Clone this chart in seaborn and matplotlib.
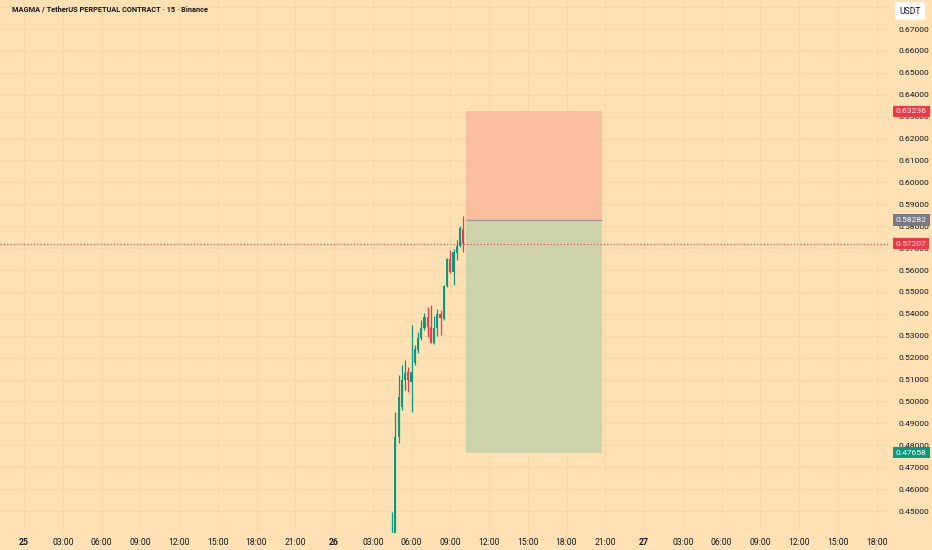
import matplotlib
matplotlib.use("Agg")
import matplotlib.pyplot as plt
import matplotlib.transforms as mtransforms
from matplotlib.patches import Rectangle
import seaborn as sns
import pandas as pd

# ---------------- data ----------------
title = "MAGMA / TetherUS PERPETUAL CONTRACT · 15 · Binance"

candle_times = ["04:30", "04:45", "05:00", "05:15", "05:30", "05:45", "06:00", "06:15",
                "06:30", "06:45", "07:00", "07:15", "07:30", "07:45", "08:00", "08:15",
                "08:30", "08:45", "09:00", "09:15", "09:30", "09:45", "10:00"]
opens = [0.4370, 0.4385, 0.4839, 0.4976, 0.5098, 0.5136, 0.5090, 0.5177,
         0.5235, 0.5290, 0.5335, 0.5387, 0.5341, 0.5268, 0.5335, 0.5399,
         0.5375, 0.5527, 0.5649, 0.5592, 0.5679, 0.5710, 0.5786]
highs = [0.4497, 0.4953, 0.5121, 0.5166, 0.5189, 0.5159, 0.5349, 0.5258,
         0.5318, 0.5372, 0.5404, 0.5433, 0.5440, 0.5390, 0.5422, 0.5417,
         0.5532, 0.5655, 0.5691, 0.5696, 0.5737, 0.5801, 0.5847]
lows = [0.4360, 0.4370, 0.4810, 0.4961, 0.5052, 0.5045, 0.4953, 0.5166,
        0.5220, 0.5280, 0.5326, 0.5296, 0.5265, 0.5262, 0.5299, 0.5303,
        0.5372, 0.5522, 0.5586, 0.5532, 0.5646, 0.5705, 0.5680]
closes = [0.4395, 0.4839, 0.5022, 0.5098, 0.5130, 0.5098, 0.5136, 0.5238,
          0.5290, 0.5337, 0.5386, 0.5341, 0.5268, 0.5335, 0.5399, 0.5381,
          0.5527, 0.5649, 0.5592, 0.5684, 0.5710, 0.5792, 0.57207]

x_tick_labels = ["25", "03:00", "06:00", "09:00", "12:00", "15:00", "18:00", "21:00",
                 "26", "03:00", "06:00", "09:00", "12:00", "15:00", "18:00", "21:00",
                 "27", "03:00", "06:00", "09:00", "12:00", "15:00", "18:00"]
price_ticks = [0.44, 0.45, 0.46, 0.47, 0.48, 0.49, 0.50, 0.51, 0.52, 0.53, 0.54, 0.55,
               0.56, 0.57, 0.58, 0.59, 0.60, 0.61, 0.62, 0.63, 0.64, 0.65, 0.66, 0.67, 0.68]

entry_price = 0.58282
stop_price = 0.63236
target_price = 0.47658
last_price = 0.57207
position_start = "10:15"   # day 26
position_end = "20:45"     # day 26

# ---------------- styling ----------------
BG = "#FFE1B3"
GRID = "#F6D8AB"
UP = "#089981"
DOWN = "#F23645"
TXT = "#131722"

sns.set_theme(style="white")
plt.rcParams["font.family"] = ["Roboto", "DejaVu Sans"]


def to_hours(hhmm, day=26):
    h, m = hhmm.split(":")
    return (day - 25) * 24 + int(h) + int(m) / 60.0


df = pd.DataFrame({"open": opens, "high": highs, "low": lows, "close": closes})
df["t"] = [to_hours(s) for s in candle_times]
df["up"] = df["close"] >= df["open"]
df["color"] = [UP if u else DOWN for u in df["up"]]
df["bottom"] = df[["open", "close"]].min(axis=1)
df["height"] = (df["close"] - df["open"]).abs().clip(lower=0.0004)

W, H = 932, 550
fig = plt.figure(figsize=(W / 100, H / 100), dpi=100, facecolor=BG)
ax = fig.add_axes([0, 17 / H, 890 / W, 533 / H])
ax.set_facecolor(BG)

# axes ranges (hours since the 25th 00:00; price)
ax.set_xlim(-1.858, 67.04)
ax.set_ylim(0.43996, 0.68324)

# position tool
ps, pe = to_hours(position_start), to_hours(position_end)
ax.add_patch(Rectangle((ps, entry_price), pe - ps, stop_price - entry_price,
                       facecolor="#FBBE9C", edgecolor="none", zorder=1))
ax.add_patch(Rectangle((ps, target_price), pe - ps, entry_price - target_price,
                       facecolor="#CED2AA", edgecolor="none", zorder=1))
ax.hlines(entry_price, ps, pe, color="#9A9A94", lw=1.0, zorder=2)

# candles
ax.vlines(df["t"], df["low"], df["high"], colors=df["color"], lw=0.9, zorder=3)
ax.bar(df["t"], df["height"], bottom=df["bottom"], width=0.17, color=df["color"],
       edgecolor="none", zorder=4)

# last price dotted line
ax.axhline(last_price, color=DOWN, lw=0.8, ls=(0, (1, 2)), zorder=2)

# ticks and grid
ax.set_xticks(list(range(0, 67, 3)))
ax.set_xticklabels(x_tick_labels)
ax.set_yticks(price_ticks)
ax.set_yticklabels(["" if (p < 0.445 or p > 0.675) else f"{p:.5f}" for p in price_ticks])
ax.yaxis.tick_right()
ax.tick_params(axis="x", length=0, pad=3.5, labelsize=6.2, labelcolor=TXT)
ax.tick_params(axis="y", length=0, pad=6, labelsize=6.1, labelcolor=TXT)
for lbl in ax.get_xticklabels():
    if lbl.get_text() in ("25", "26", "27"):
        lbl.set_fontweight("bold")
ax.grid(True, color=GRID, lw=0.8, zorder=0)
ax.set_axisbelow(True)
for s in ax.spines.values():
    s.set_visible(False)

# right-side price labels
trans = mtransforms.blended_transform_factory(fig.transFigure, ax.transData)
for price, col in [(stop_price, DOWN), (entry_price, "#787B86"),
                   (last_price, DOWN), (target_price, UP)]:
    ax.text(896 / W, price, f"{price:.5f}", transform=trans, ha="left", va="center",
            fontsize=6.1, color="white", zorder=10, clip_on=False,
            bbox=dict(boxstyle="square,pad=0.32", fc=col, ec="none"))

# currency box
fig.text(910 / W, 1 - 11 / H, "USDT", ha="center", va="center", fontsize=6.2, color=TXT,
         bbox=dict(boxstyle="round,pad=0.5,rounding_size=0.3", fc="white", ec="none"))

# title
fig.text(12 / W, 1 - 10 / H, title, ha="left", va="center", fontsize=5.3,
         fontweight="bold", color=TXT)

fig.savefig("out.png", dpi=100, facecolor=BG)
